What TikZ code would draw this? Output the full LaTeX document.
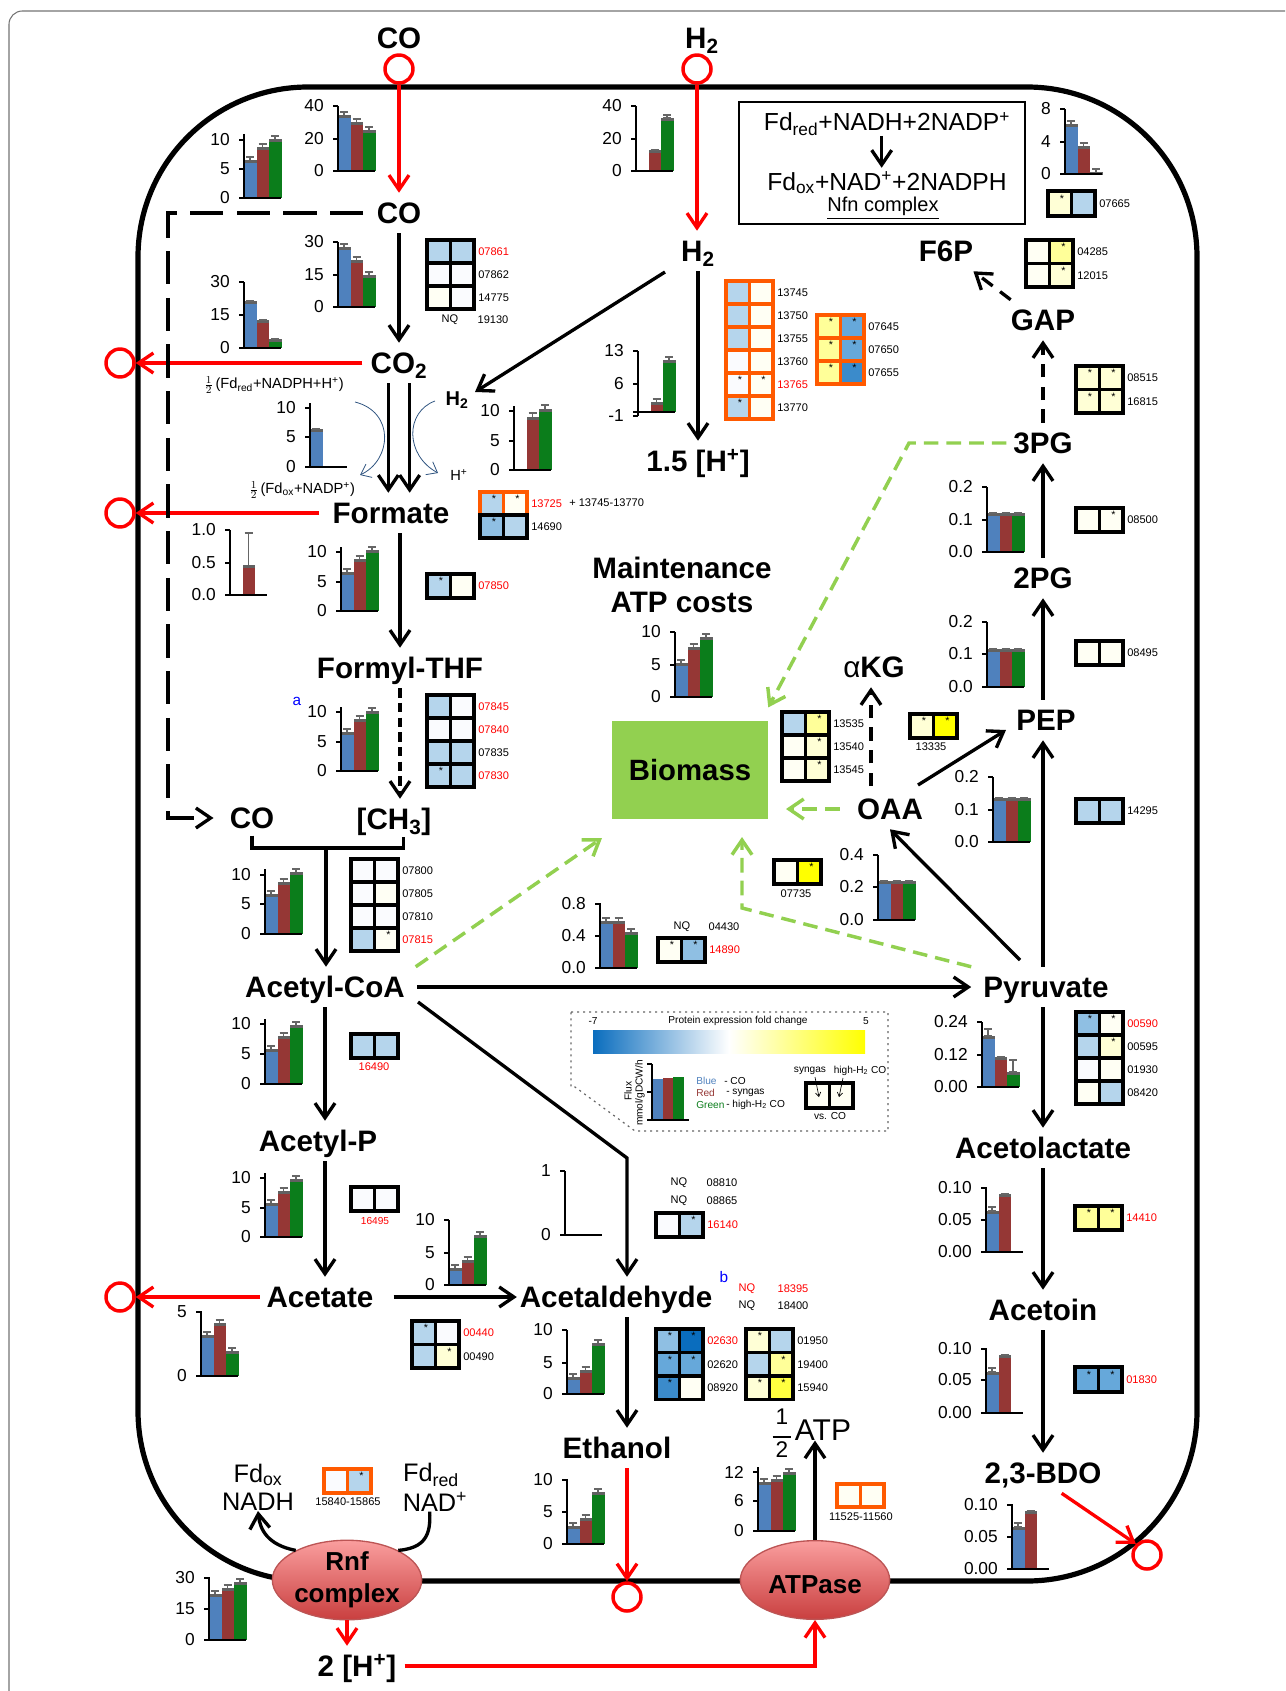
\documentclass[tikz,border=0pt]{standalone}
\usepackage{amsmath}
\usepackage{fontspec}
\usepackage{xcolor}
\setmainfont{Liberation Sans}
\usetikzlibrary{arrows.meta,shapes.geometric}

\definecolor{barblue}{HTML}{4F81BD}
\definecolor{barred}{HTML}{953735}
\definecolor{bargreen}{HTML}{0B7D1B}
\definecolor{hblue1}{HTML}{B5D5EC}
\definecolor{hblue2}{HTML}{8FBFE3}
\definecolor{hblue3}{HTML}{66A8DA}
\definecolor{hblue4}{HTML}{3B8BCB}
\definecolor{hblue5}{HTML}{0A6DBE}
\definecolor{hwhite}{HTML}{FAFBFE}
\definecolor{hivory}{HTML}{FFFFF4}
\definecolor{hcream}{HTML}{FFFFD6}
\definecolor{hyel1}{HTML}{FFFF99}
\definecolor{hyel2}{HTML}{FFFF40}
\definecolor{hyel3}{HTML}{FFFF00}
\definecolor{framered}{HTML}{FF5A00}
\definecolor{biogreen}{HTML}{92D050}
\definecolor{fdblue}{HTML}{2F5480}
\definecolor{enzymetop}{HTML}{FA9E9E}
\definecolor{enzymebottom}{HTML}{C93F3F}
\definecolor{enzymeline}{HTML}{BC5555}

\newcommand{\fluxaxes}[4]{%
    \draw[chartline] (#1,#3) -- (#1,#2);
    \draw[chartline] (#1-5,#2) -- (#1+37,#2);
    \foreach \ticklab/\ticky in {#4} {
        \draw[chartline] (#1-5,\ticky) -- (#1,\ticky);
        \node[ticklabel] (tick#1at\ticky) at (#1-14,\ticky) {\ticklab};
    }
}
\newcommand{\fluxbar}[5]{%
    \ifnum#5>0
        \fill[#2] (#3,#5) rectangle (#3+12.5,#4);
        \fill[errorband] (#3,#5) rectangle (#3+12.5,#5+3);
        \draw[errorbar] (#3+6,#5-#1) -- (#3+6,#5);
        \draw[errorbar] (#3+2,#5-#1) -- (#3+10,#5-#1);
    \fi
}
\newcommand{\fluxchart}[8][3]{%
    \fluxbar{#1}{barblue}{#2}{#3}{#6}
    \fluxbar{#1}{barred}{#2+12.5}{#3}{#7}
    \fluxbar{#1}{bargreen}{#2+25}{#3}{#8}
    \fluxaxes{#2}{#3}{#4}{#5}
}
\newcommand{\fluxwhisker}[3]{%
    \draw[errorbar] (#1+6,#2-#3) -- (#1+6,#2);
    \draw[errorbar] (#1+2,#2-#3) -- (#1+10,#2-#3);
}
\newcommand{\heatgrid}[5]{%
    \foreach \lcol/\lstar/\rcol/\rstar/\gene/\genecol [count=\rowi from 0] in {#5} {
        \fill[fill=\lcol] (#1,#2+\rowi*#3) rectangle ++(23.5,#3);
        \fill[fill=\rcol] (#1+23.5,#2+\rowi*#3) rectangle ++(23.5,#3);
        \node[starmark] (sl#1y#2r\rowi) at (#1+14,#2+\rowi*#3+#3*0.3) {\lstar};
        \node[starmark] (sr#1y#2r\rowi) at (#1+37.5,#2+\rowi*#3+#3*0.3) {\rstar};
        \node[geneid,anchor=west,text=\genecol] (gene#1y#2r\rowi) at (#1+51,#2+\rowi*#3+#3/2) {\gene};
    }
    \foreach \lcol/\lstar/\rcol/\rstar/\gene/\genecol [count=\rowi from 0] in {#5} {
        \draw[heatframe,draw=#4] (#1,#2+\rowi*#3) rectangle ++(23.5,#3);
        \draw[heatframe,draw=#4] (#1+23.5,#2+\rowi*#3) rectangle ++(23.5,#3);
    }
}

\begin{document}
\begin{tikzpicture}[
    x=0.75pt, y=-0.75pt,
    metab/.style={
        font=\fontsize{22.2}{24}\selectfont\bfseries,
        inner sep=0pt,
        text height=15.5pt,
        text depth=0pt,
        minimum height=30pt
    },
    smalllabel/.style={font=\fontsize{11}{13}\selectfont, inner sep=0pt},
    cofactor/.style={font=\fontsize{19}{22}\selectfont, inner sep=0pt},
    nfnline/.style={font=\fontsize{18.5}{22}\selectfont, inner sep=0pt},
    ticklabel/.style={font=\fontsize{13}{15}\selectfont, anchor=east, inner sep=0pt},
    geneid/.style={font=\fontsize{8.3}{10}\selectfont, inner sep=0pt},
    starmark/.style={font=\fontsize{8}{8}\selectfont, inner sep=0pt},
    legendtext/.style={font=\fontsize{7.6}{9}\selectfont, inner sep=0pt},
    chartline/.style={draw=black, line width=1.9pt},
    errorband/.style={fill=black!62},
    errorbar/.style={draw=black!60, line width=1pt},
    heatframe/.style={line width=2.3pt},
    membrane/.style={draw=black, line width=3.9pt},
    flow/.style={draw=black, line width=2.5pt, -{Straight Barb[length=11pt,width=15pt]}},
    dashflow/.style={flow, dash pattern=on 10pt off 7pt},
    longdash/.style={flow, dash pattern=on 25pt off 10pt},
    export/.style={draw=red, line width=2.5pt, -{Straight Barb[length=11pt,width=15pt]}},
    biolink/.style={draw=biogreen, line width=2.6pt, dash pattern=on 11pt off 6pt,
        -{Straight Barb[length=11pt,width=15pt]}},
    fdcurve/.style={draw=fdblue, line width=0.6pt, -{Straight Barb[length=7pt,width=11pt]}},
    port/.style={circle, draw=red, line width=2.6pt, minimum size=21pt, inner sep=0pt},
    enzyme/.style={
        ellipse,
        draw=enzymeline,
        line width=1pt,
        top color=enzymetop,
        bottom color=enzymebottom,
        minimum width=112pt,
        minimum height=59pt,
        inner sep=0pt,
        align=center,
        font=\fontsize{19.5}{24}\selectfont\bfseries
    }
]
    \useasboundingbox (0,0) rectangle (1285,1691);
    \draw[draw=black!55, line width=0.8pt, rounded corners=10pt] (1285,11) -- (9,11) -- (9,1691);
    \draw[membrane, rounded corners=127.5pt] (138,87) rectangle (1197,1581);

    % metabolites
    \node[metab] (cotop) at (399,38) {CO};
    \node[metab] (htop) at (702,38) {H\textsubscript{2}};
    \node[port] (cocircle) at (399,69) {};
    \node[port] (hcircle) at (697,69) {};
    \node[metab] (cointra) at (399,213) {CO};
    \node[metab] (hydrogen) at (698,251) {H\textsubscript{2}};
    \node[metab] (cotwo) at (399,363) {CO\textsubscript{2}};
    \node[port] (cotwocircle) at (120,363) {};
    \node[metab] (formate) at (391,513) {Formate};
    \node[port] (formatecircle) at (120,513) {};
    \node[metab] (formyl) at (400,668) {Formyl-THF};
    \node[metab] (cosyn) at (252,818) {CO};
    \node[metab] (methyl) at (394,819) {[CH\textsubscript{3}]};
    \node[metab] (acetylcoa) at (325,987) {Acetyl-CoA};
    \node[metab] (acetylp) at (318,1141) {Acetyl-P};
    \node[metab] (acetate) at (320,1297) {Acetate};
    \node[port] (acetatecircle) at (120,1297) {};
    \node[metab] (acetald) at (616,1297) {Acetaldehyde};
    \node[metab] (ethanol) at (617,1448) {Ethanol};
    \node[port] (ethanolcircle) at (627,1597) {};
    \node[metab] (protons) at (698,461) {1.5 [H\textsuperscript{+}]};
    \node[metab] (fsixp) at (946,251) {F6P};
    \node[metab] (gap) at (1043,320) {GAP};
    \node[metab] (threepg) at (1043,443) {3PG};
    \node[metab] (twopg) at (1043,578) {2PG};
    \node[metab] (pep) at (1046,720) {PEP};
    \node[metab] (oaa) at (890,809) {OAA};
    \node[metab] (akg) at (874,667) {{\mdseries α}KG};
    \node[metab] (pyruvate) at (1046,987) {Pyruvate};
    \node[metab] (acetolactate) at (1043,1148) {Acetolactate};
    \node[metab] (acetoin) at (1043,1310) {Acetoin};
    \node[metab] (bdo) at (1043,1473) {2,3-BDO};
    \node[port] (bdocircle) at (1147,1555) {};
    \node[metab] (maint) at (682,568) {Maintenance};
    \node[metab] (atpcost) at (682,602) {ATP costs};
    \node[metab] (hrnf) at (357,1666) {2 [H\textsuperscript{+}]};
    \node[fill=biogreen, minimum width=117pt, minimum height=73.5pt, inner sep=0pt,
        font=\fontsize{22}{24}\selectfont\bfseries] (biomass) at (690,770) {Biomass};
    \node[enzyme] (rnf) at (347,1580) {Rnf\\complex};
    \node[enzyme] (atpase) at (815,1580) {\rule{0pt}{20pt}ATPase};

    % cofactors
    \node[font=\fontsize{15}{17}\selectfont\bfseries, inner sep=0pt] (hsmall) at (457,400) {H\textsubscript{2}};
    \node[smalllabel] (hplus) at (459,475) {H\textsuperscript{+}};
    \node[smalllabel, anchor=west] (fdredhalf) at (204,385) {$\frac{1}{2}$\,(Fd\textsubscript{red}+NADPH+H\textsuperscript{+})};
    \node[smalllabel, anchor=west] (fdoxhalf) at (249,490) {$\frac{1}{2}$\,(Fd\textsubscript{ox}+NADP\textsuperscript{+})};
    \node[cofactor] (fdox) at (258,1475) {Fd\textsubscript{ox}};
    \node[cofactor] (nadh) at (258,1502) {NADH};
    \node[cofactor] (fdred) at (431,1475) {Fd\textsubscript{red}};
    \node[cofactor] (nadplus) at (435,1502) {NAD\textsuperscript{+}};
    \node[font=\fontsize{22.5}{24}\selectfont, inner sep=0pt] (halfatp) at (823,1430) {ATP};
    \node[font=\fontsize{17}{19}\selectfont, inner sep=0pt] (halfone) at (782,1417) {1};
    \node[font=\fontsize{17}{19}\selectfont, inner sep=0pt] (halftwo) at (782,1450) {2};
    \draw[draw=black, line width=2pt] ([xshift=-7pt,yshift=-9pt]halfone.south) -- ([xshift=7pt,yshift=-9pt]halfone.south);
    \node[font=\fontsize{11.5}{13}\selectfont, text=blue, inner sep=0pt] (marka) at (297,701) {a};
    \node[font=\fontsize{11.5}{13}\selectfont, text=blue, inner sep=0pt] (markb) at (724,1277) {b};

    % Nfn box
    \node[draw, line width=1.6pt, minimum width=215pt, minimum height=91pt, inner sep=0pt] (nfnbox) at (882,163) {};
    \node[nfnline] (nfntop) at (887,124) {Fd\textsubscript{red}+NADH+2NADP\textsuperscript{+}};
    \node[nfnline] (nfnbottom) at (887,183) {Fd\textsubscript{ox}+NAD\textsuperscript{+}+2NADPH};
    \node[font=\fontsize{15}{17}\selectfont, inner sep=0pt] (nfnname) at (883,208) {\underline{Nfn complex}};
    \draw[flow] ([xshift=-4pt]nfntop.south) -- ([xshift=-4pt,yshift=3pt]nfnbottom.north);

    % helper ends
    \coordinate (dashturn) at (168,818);
    \coordinate (trunktop) at (326,848);
    \coordinate (aldbend) at (627,1158);
    \coordinate (acetylout) at (418,1002);
    \coordinate (pyruvateout) at (1020,960);
    \coordinate (pepin) at (1006,730);
    \coordinate (oaaout) at (918,785);
    \coordinate (kgline) at (871,786);
    \coordinate (hydrogenout) at (665,272);
    \coordinate (hsmallin) at (475,392);
    \coordinate (greenbend) at (909,443);
    \coordinate (biomassbend) at (742,908);
    \coordinate (biomassbelow) at (742,837);
    \coordinate (biomassright) at (786,809);
    \coordinate (biomassleft) at (602,838);
    \coordinate (fdredin) at (355,402);
    \coordinate (fdoxout) at (360,475);
    \coordinate (hsmallout) at (435,401);
    \coordinate (hplusin) at (438,473);

    % thin cofactor curves
    \draw[fdcurve] (fdredin) .. controls (395,412) and (392,460) .. (fdoxout);
    \draw[fdcurve] (hsmallout) .. controls (405,412) and (405,455) .. (hplusin);

    % red transport
    \draw[export] (cocircle.south) -- (cointra.north);
    \draw[export] (hcircle.south) -- (hcircle |- hydrogen.north);
    \draw[export] ([xshift=-6pt]cotwo.west) -- (cotwocircle.east);
    \draw[export] ([xshift=-10pt]formate.west) -- (formatecircle.east);
    \draw[export] ([xshift=-5pt]acetate.west) -- (acetatecircle.east);
    \draw[export] (aldbend |- ethanol.south) -- (ethanolcircle.north);
    \draw[export] ([xshift=14pt]bdo.south) -- (bdocircle.north west);
    \draw[export] (rnf.south) -- (rnf |- hrnf.north);
    \draw[export] ([xshift=6pt]hrnf.east) -| (atpase.south);

    % black flows
    \draw[flow] (cointra.south) -- (cotwo.north);
    \draw[flow] ([xshift=-8pt]cotwo.south) -- ([xshift=-8pt]cotwo.south |- formate.north);
    \draw[flow] ([xshift=8pt]cotwo.south) -- ([xshift=8pt]cotwo.south |- formate.north);
    \draw[flow] (hydrogenout) -- (hsmallin);
    \draw[flow] (hydrogen.south) -- (protons.north);
    \draw[flow] (formate.south -| formyl) -- (formyl.north);
    \draw[dashflow, dash pattern=on 7pt off 4pt] (formyl.south) -- (formyl |- methyl.north);
    \draw[longdash] ([xshift=-10pt]cointra.west) -| (dashturn) -- ([xshift=-12pt]cosyn.west);
    \draw[draw=black, line width=2.5pt] ([yshift=2pt]cosyn.south) |- (trunktop) -| ([xshift=7pt,yshift=2pt]methyl.south);
    \draw[flow] (trunktop) -- (trunktop |- acetylcoa.north);
    \draw[flow] (acetylcoa.south) -- (acetylcoa |- acetylp.north);
    \draw[flow] (acetylcoa |- acetylp.south) -- (acetylcoa |- acetate.north);
    \draw[flow] ([xshift=15pt]acetate.east) -- ([xshift=-2pt]acetald.west);
    \draw[flow] ([xshift=9pt]acetylcoa.east) -- ([xshift=-9pt]pyruvate.west);
    \draw[flow] (acetylout) -- (aldbend) -- (aldbend |- acetald.north);
    \draw[flow] (aldbend |- acetald.south) -- (aldbend |- ethanol.north);
    \draw[flow] (pyruvate.north -| gap) -- (pep.south -| gap);
    \draw[flow] (pep.north -| gap) -- (twopg.south);
    \draw[flow] (twopg.north) -- (threepg.south);
    \draw[dashflow] (threepg.north) -- (gap.south);
    \draw[dashflow] (gap.north west) -- (fsixp.south east);
    \draw[flow] (pyruvateout) -- (oaa.south);
    \draw[flow] (oaaout) -- (pepin);
    \draw[dashflow] (kgline) -- (kgline |- akg.south);
    \draw[flow] (pyruvate.south -| gap) -- (acetolactate.north);
    \draw[flow] (acetolactate.south) -- (acetoin.north);
    \draw[flow] (acetoin.south) -- (bdo.north);
    \draw[flow] (atpase.north) -- (atpase |- halfatp.south);
    \draw[flow] (rnf.150) .. controls (268,1545) and (260,1530) .. (nadh.south);
    \draw[draw=black, line width=2.5pt] (rnf.30) .. controls (425,1548) and (431,1535) .. ([xshift=-4pt]nadplus.south);

    % links to biomass
    \draw[biolink] ([xshift=-5pt]threepg.west) -- (greenbend) -- ([yshift=10pt]biomass.north east);
    \draw[biolink] ([xshift=-13pt]oaa.west) -- (biomassright);
    \draw[biolink] ([xshift=-9pt]pyruvate.north west) -- (biomassbend) -- (biomassbelow);
    \draw[biolink] ([xshift=8pt]acetylcoa.north east) -- (biomassleft);

    % flux charts
    \fluxchart{244}{198}{134}{10/140,5/169,0/198}{160}{147}{139}
    \fluxchart{338}{171}{106}{40/106,20/139,0/171}{115}{122}{130}
    \fluxchart[0]{636}{171}{106}{40/106,20/139,0/171}{0}{150}{118}
    \fluxwhisker{661}{118}{3}
    \fluxchart{338}{307}{242}{30/242,15/275,0/307}{247}{260}{275}
    \fluxchart[0]{244}{348}{282}{30/282,15/315,0/348}{301}{320}{339}
    \fluxchart[0]{310}{467}{403}{10/408,5/437,0/467}{429}{0}{0}
    \fluxchart[4]{514}{470}{406}{10/411,5/441,0/470}{0}{417}{409}
    \fluxchart{638}{412}{351}{13/351,6/384,-1/416}{0}{402}{360}
    \draw[chartline] (638,412) -- (638,416);
    \fluxchart[32]{230}{595}{530}{1.0/530,0.5/563,0.0/595}{0}{565}{0}
    \fluxchart{341}{611}{547}{10/552,5/582,0/611}{572}{559}{550}
    \fluxchart{341}{771}{707}{10/712,5/742,0/771}{732}{719}{711}
    \fluxchart{265}{934}{869}{10/875,5/904,0/934}{894}{882}{872}
    \fluxchart{265}{1084}{1019}{10/1024,5/1054,0/1084}{1049}{1036}{1025}
    \fluxchart{265}{1237}{1173}{10/1178,5/1208,0/1237}{1203}{1191}{1179}
    \fluxchart{201}{1376}{1311}{5/1312,0/1376}{1335}{1323}{1351}
    \fluxchart{449}{1285}{1220}{10/1220,5/1253,0/1285}{1268}{1260}{1235}
    \fluxchart{565}{1235}{1171}{1/1171,0/1235}{0}{0}{0}
    \fluxchart{567}{1394}{1330}{10/1330,5/1363,0/1394}{1377}{1370}{1343}
    \fluxchart{567}{1544}{1479}{10/1480,5/1512,0/1544}{1526}{1518}{1492}
    \fluxchart{209}{1640}{1577}{30/1578,15/1609,0/1640}{1594}{1588}{1582}
    \fluxchart{758}{1531}{1467}{12/1472,6/1501,0/1531}{1482}{1479}{1472}
    \fluxchart[0]{1012}{1569}{1504}{0.10/1505,0.05/1537,0.00/1569}{1527}{1511}{0}
    \fluxwhisker{1012}{1527}{4}
    \fluxchart[0]{986}{1413}{1348}{0.10/1349,0.05/1380,0.00/1413}{1372}{1355}{0}
    \fluxwhisker{986}{1372}{4}
    \fluxchart[0]{986}{1252}{1187}{0.10/1188,0.05/1220,0.00/1252}{1211}{1194}{0}
    \fluxwhisker{986}{1211}{4}
    \fluxchart[0]{982}{1087}{1022}{0.24/1022,0.12/1055,0.00/1087}{1036}{1057}{1072}
    \fluxwhisker{982}{1036}{7}
    \fluxwhisker{1007}{1072}{12}
    \fluxchart[0]{878}{920}{855}{0.4/855,0.2/887,0.0/920}{881}{881}{881}
    \fluxchart[0]{993}{842}{777}{0.2/777,0.1/810,0.0/842}{798}{798}{798}
    \fluxchart[0]{987}{687}{622}{0.2/622,0.1/654,0.0/687}{649}{649}{649}
    \fluxchart[0]{987}{552}{487}{0.2/487,0.1/520,0.0/552}{513}{513}{513}
    \fluxchart{1065}{174}{109}{8/109,4/142,0/174}{124}{146}{172}
    \fluxchart{675}{697}{632}{10/632,5/665,0/697}{663}{647}{637}
    \fluxchart{600}{968}{903}{0.8/904,0.4/936,0.0/968}{921}{921}{932}

    % expression grids
    \heatgrid{427}{240}{23}{black}{hblue1//hblue1//07861/red,hwhite//hwhite//07862/black,hivory//hwhite//14775/black}
    \node[geneid] (nqa) at (450,320) {NQ};
    \node[geneid] (genea) at (493,320) {19130};
    \heatgrid{480}{492}{23}{framered}{hblue1/*/hivory/*/13725/red}
    \heatgrid{480}{515}{23}{black}{hblue2/*/hblue1//14690/black}
    \node[geneid, anchor=west] (geneb) at (569,503) {+ 13745-13770};
    \heatgrid{427}{574}{24}{black}{hblue1/*/hivory//07850/red}
    \heatgrid{427}{695}{23}{black}{hblue1//hwhite//07845/red,hwhite//hwhite//07840/red,hblue1//hblue1//07835/black,hblue1/*/hblue1//07830/red}
    \heatgrid{351}{859}{23}{black}{hwhite//hwhite//07800/black,hwhite//hivory//07805/black,hwhite//hwhite//07810/black,hblue1//hivory/*/07815/red}
    \heatgrid{351}{1034}{24}{black}{hblue1//hblue1///black}
    \node[geneid, text=red] (genec) at (374,1067) {16490};
    \heatgrid{351}{1187}{24}{black}{hwhite//hwhite///black}
    \node[geneid, text=red, font=\fontsize{7.6}{9}\selectfont] (gened) at (375,1221) {16495};
    \heatgrid{412}{1321}{23.5}{black}{hblue1/*/hwhite//00440/red,hblue1//hcream/*/00490/black}
    \heatgrid{656}{1213}{24}{black}{hwhite//hblue1/*/16140/red}
    \node[geneid] (nqb) at (679,1183) {NQ};
    \node[geneid] (genee) at (722,1183) {08810};
    \node[geneid] (nqc) at (679,1201) {NQ};
    \node[geneid] (genef) at (722,1201) {08865};
    \heatgrid{656}{1329}{23.5}{black}{hblue2/*/hblue5/*/02630/red,hblue3/*/hblue3/*/02620/black,hblue4/*/hivory//08920/black}
    \heatgrid{746}{1329}{23.5}{black}{hcream/*/hblue1//01950/black,hblue1//hyel1/*/19400/black,hcream/*/hyel2/*/15940/black}
    \node[geneid, text=red] (nqd) at (747,1289) {NQ};
    \node[geneid, text=red] (geneg) at (793,1289) {18395};
    \node[geneid] (nqe) at (747,1306) {NQ};
    \node[geneid] (geneh) at (793,1306) {18400};
    \heatgrid{1075}{1206}{24}{black}{hyel1/*/hyel1/*/14410/red}
    \heatgrid{1075}{1367}{25}{black}{hblue3/*/hblue3/*/01830/red}
    \heatgrid{837}{1484}{23}{framered}{hivory//hivory///black}
    \node[geneid] (genei) at (861,1517) {11525-11560};
    \heatgrid{324}{1469}{24}{framered}{hwhite//hblue1/*//black}
    \node[geneid] (genej) at (348,1502) {15840-15865};
    \heatgrid{658}{938}{24}{black}{hivory/*/hblue2/*/14890/red}
    \node[geneid] (nqf) at (682,927) {NQ};
    \node[geneid] (genek) at (724,927) {04430};
    \heatgrid{774}{860}{24}{black}{hivory//hyel3/*//black}
    \node[geneid] (genel) at (796,894) {07735};
    \heatgrid{910}{714}{24}{black}{hcream/*/hyel3/*//black}
    \node[geneid] (genem) at (931,747) {13335};
    \heatgrid{782}{712}{23}{black}{hblue1//hyel1/*/13535/black,hivory//hcream/*/13540/black,hivory//hcream/*/13545/black}
    \heatgrid{1076}{799}{24}{black}{hblue1//hblue1//14295/black}
    \heatgrid{1076}{641}{24}{black}{hivory//hivory//08495/black}
    \heatgrid{1076}{1012}{23}{black}{hblue2/*/hivory/*/00590/red,hblue1//hcream/*/00595/black,hwhite//hivory//01930/black,hivory//hblue1//08420/black}
    \heatgrid{1076}{508}{24}{black}{hivory//hivory/*/08500/black}
    \heatgrid{1076}{366}{23.5}{black}{hcream/*/hcream/*/08515/black,hcream/*/hcream/*/16815/black}
    \heatgrid{1026}{240}{23.5}{black}{hivory//hyel1/*/04285/black,hivory//hcream/*/12015/black}
    \heatgrid{1048}{191}{25}{black}{hcream/*/hblue1//07665/black}
    \heatgrid{726}{281}{23}{framered}{hblue1//hivory//13745/black,hblue1//hivory//13750/black,hblue1//hivory//13755/black,hwhite//hivory//13760/black,hwhite/*/hivory/*/13765/red,hblue1/*/hivory//13770/black}
    \heatgrid{817}{315}{23}{framered}{hyel1/*/hblue3/*/07645/black,hyel1/*/hblue3/*/07650/black,hyel1/*/hblue4/*/07655/black}

    % legend
    \draw[draw=black!60, line width=0.9pt, dash pattern=on 1.5pt off 3pt]
        (571,1012) -- (888,1012) -- (888,1131) -- (635,1131) -- (575,1087) -- (571,1087) -- cycle;
    \node[legendtext] (scalelow) at (593,1021) {-7};
    \node[legendtext] (scalename) at (738,1021) {Protein expression fold change};
    \node[legendtext] (scalehigh) at (866,1021) {5};
    \shade[left color=hblue5, right color=white] (593,1030) rectangle (729,1053);
    \shade[left color=white, right color=hyel3] (729,1030) rectangle (865,1053);
    \fill[barblue] (653,1079) rectangle (663,1120);
    \fill[barred] (663,1078) rectangle (673,1120);
    \fill[bargreen] (673,1077) rectangle (684,1120);
    \fluxaxes{652}{1120}{1064}{/1064,/1092}
    \node[legendtext, rotate=90] (fluxname) at (628,1091) {Flux};
    \node[legendtext, rotate=90] (fluxunit) at (640,1093) {mmol/gDCW/h};
    \node[legendtext, anchor=west, text=barblue] (keyblue) at (696,1081) {Blue};
    \node[legendtext, anchor=west] (keyco) at (724,1081) {- CO};
    \node[legendtext, anchor=west, text=barred] (keyred) at (696,1093) {Red};
    \node[legendtext, anchor=west] (keysyn) at (726,1093) {- syngas};
    \node[legendtext, anchor=west, text=bargreen] (keygreen) at (696,1105) {Green};
    \node[legendtext, anchor=west] (keyhigh) at (726,1105) {- high-H\textsubscript{2} CO};
    \heatgrid{806}{1083}{25}{black}{hivory//hivory///black}
    \node[legendtext] (keysyngas) at (810,1071) {syngas};
    \node[legendtext] (keyhighco) at (860,1071) {high-H\textsubscript{2} CO};
    \node[legendtext] (keyvs) at (830,1116) {vs. CO};
    \draw[draw=black, line width=0.5pt, -{Straight Barb[length=3pt,width=4pt]}] (keysyngas.south) ++(5,2) -- (819,1097);
    \draw[draw=black, line width=0.5pt, -{Straight Barb[length=3pt,width=4pt]}] (keyhighco.south) ++(-17,2) -- (839,1097);
\end{tikzpicture}
\end{document}
